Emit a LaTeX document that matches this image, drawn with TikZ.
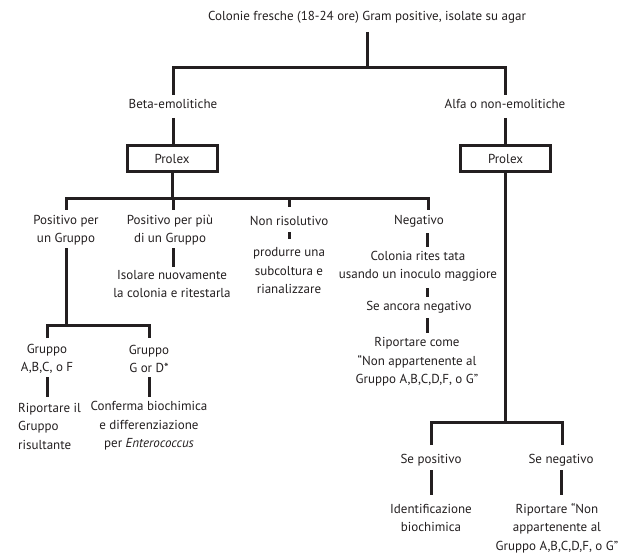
\documentclass[tikz,border=0pt]{standalone}
\usepackage{fontspec}
\setmainfont{PT Sans}
\definecolor{ink}{HTML}{231F20}
\begin{document}
\begin{tikzpicture}[x=1pt,y=-1pt,
  txt/.style={inner sep=0pt,align=center,text=ink,font=\fontsize{13}{18.5}\selectfont},
  box/.style={draw=ink,line width=3pt,minimum width=90pt,minimum height=26pt,inner sep=0pt,text=ink,font=\fontsize{13}{18.5}\selectfont},
  ln/.style={draw=ink,line width=3pt}]
\useasboundingbox (0,0) rectangle (620,553);
\node[txt] (title) at (367,17) {Colonie fresche (18-24 ore) Gram positive, isolate su agar};
\node[txt] (beta) at (173,104) {Beta-emolitiche};
\node[txt] (alfa) at (505,104) {Alfa o non-emolitiche};
\node[box] (prolexL) at (172,158.5) {Prolex};
\node[box] (prolexR) at (505.5,158.5) {Prolex};
\node[txt] (pos1) at (66,230) {Positivo per\\un Gruppo};
\node[txt] (pos2) at (170,230) {Positivo per più\\di un Gruppo};
\node[txt] (nonris) at (289,221) {Non risolutivo};
\node[txt] (neg) at (419,221) {Negativo};
\node[txt] (isolare) at (172,284) {Isolare nuovamente\\la colonia e ritestarla};
\node[txt] (produrre) at (289,271) {produrre una\\subcoltura e\\rianalizzare};
\node[txt] (colonia) at (418,266) {Colonia rites tata\\usando un inoculo maggiore};
\node[txt] (ancora) at (419,307) {Se ancora negativo};
\node[txt] (riport) at (417,362) {Riportare come\\``Non appartenente al\\Gruppo A,B,C,D,F, o G''};
\node[txt] (grA) at (47,359) {Gruppo\\A,B,C, o F};
\node[txt] (grG) at (149,359) {Gruppo\\G or D*};
\node[txt,align=left,anchor=west] (riportil) at (18,426) {Riportare il\\Gruppo\\risultante};
\node[txt] (conferma) at (149,426) {Conferma biochimica\\e differenziazione\\per \textit{Enterococcus}};
\node[txt] (sepos) at (431,460) {Se positivo};
\node[txt] (seneg) at (561,460) {Se negativo};
\node[txt] (ident) at (431,518) {Identificazione\\biochimica};
\node[txt] (riport2) at (557,528) {Riportare ``Non\\appartenente al\\Gruppo A,B,C,D,F, o G''};
% top tree
\coordinate (j0) at (367,68);
\draw[ln] (title.south |- 0,32) -- (j0);
\draw[ln] (beta.north |- 0,95) -- (beta.north |- 0,68) -- (alfa.north |- 0,68) -- (alfa.north |- 0,95);
\draw[ln] (beta.south |- 0,118) -- (prolexL.north -| beta.south);
\draw[ln] (alfa.south |- 0,118) -- (prolexR.north -| alfa.south);
% left prolex bus
\coordinate (jL) at (prolexL.south |- 0,199);
\draw[ln] (prolexL.south) -- (jL);
\draw[ln] (66,210) -- (66,199) -- (428,199) -- (428,210);
\draw[ln] (173,199) -- (173,210);
\draw[ln] (289,199) -- (289,207);
% branch 2
\draw[ln] (173,248) -- (173,267);
% non risolutivo
\draw[ln] (289,232) -- (289,239);
% negativo chain
\draw[ln] (427,233) -- (427,247);
\draw[ln] (427,288) -- (427,297);
\draw[ln] (427,318) -- (427,333);
% group branch
\draw[ln] (66,248) -- (66,325);
\draw[ln] (47,338) -- (47,325) -- (149,325) -- (149,338);
\draw[ln] (47,377) -- (47,397);
\draw[ln] (149,377) -- (149,397);
% right branch
\draw[ln] (prolexR.south -| 505,0) -- (505,422);
\draw[ln] (431,445) -- (431,422) -- (562,422) -- (562,445);
\draw[ln] (431,470) -- (431,495);
\draw[ln] (561,470) -- (561,495);
\end{tikzpicture}
\end{document}
